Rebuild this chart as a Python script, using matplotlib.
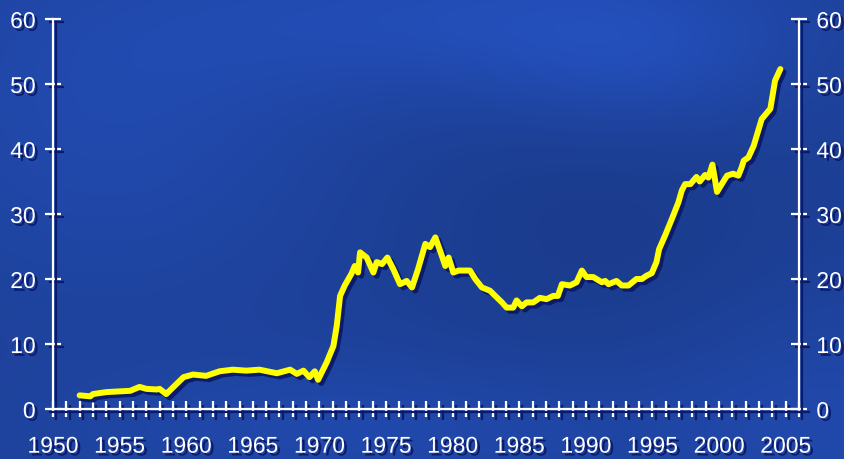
import numpy as np
import matplotlib
matplotlib.use("Agg")
import matplotlib.pyplot as plt
import matplotlib.patheffects as pe

# Series read as (year, value) pairs
years = [1952.0, 1952.8, 1953.0, 1954.0, 1955.8, 1956.5, 1957.0, 1957.8, 1958.0, 1958.5,
         1959.0, 1959.8, 1960.5, 1961.5, 1962.5, 1963.5, 1964.5, 1965.5, 1966.8, 1967.8,
         1968.3, 1968.8, 1969.25, 1969.65, 1969.9, 1970.55, 1971.05, 1971.3, 1971.55, 1971.9,
         1972.4, 1972.65, 1972.9, 1973.05, 1973.55, 1974.05, 1974.3, 1974.7, 1975.1, 1975.55,
         1976.05, 1976.55, 1976.95, 1977.4, 1977.95, 1978.3, 1978.7, 1979.05, 1979.45, 1979.7,
         1980.05, 1980.45, 1981.3, 1981.7, 1982.2, 1982.8, 1983.3, 1983.7, 1984.05, 1984.55,
         1984.8, 1985.2, 1985.55, 1986.05, 1986.55, 1987.05, 1987.55, 1987.9, 1988.2, 1988.8,
         1989.3, 1989.7, 1990.05, 1990.55, 1991.2, 1991.45, 1991.7, 1992.3, 1992.7, 1993.2,
         1993.8, 1994.2, 1994.55, 1994.95, 1995.3, 1995.5, 1995.95, 1996.45, 1996.95, 1997.2,
         1997.45, 1997.85, 1998.3, 1998.55, 1998.95, 1999.2, 1999.5, 1999.85, 2000.2, 2000.6,
         2001.05, 2001.45, 2001.7, 2001.85, 2002.2, 2002.6, 2003.2, 2003.85, 2004.2, 2004.6]
values = [2.1, 1.95, 2.3, 2.6, 2.8, 3.4, 3.1, 3.0, 3.1, 2.3,
          3.3, 4.9, 5.3, 5.1, 5.8, 6.05, 5.9, 6.05, 5.5, 6.05,
          5.4, 5.9, 4.9, 5.8, 4.5, 7.2, 9.7, 12.8, 17.4, 19.0,
          20.8, 22.0, 21.0, 24.1, 23.3, 21.0, 22.6, 22.3, 23.3, 21.5,
          19.2, 19.7, 18.7, 21.5, 25.4, 24.9, 26.4, 24.4, 22.0, 23.3,
          21.0, 21.3, 21.3, 20.0, 18.7, 18.2, 17.2, 16.4, 15.6, 15.6,
          16.7, 15.8, 16.4, 16.4, 17.1, 16.9, 17.4, 17.4, 19.2, 19.0,
          19.5, 21.3, 20.3, 20.3, 19.5, 19.7, 19.2, 19.7, 19.0, 19.0,
          20.0, 20.0, 20.5, 20.9, 22.6, 24.6, 26.7, 29.2, 31.8, 33.6,
          34.6, 34.6, 35.7, 35.0, 36.0, 35.6, 37.6, 33.4, 34.6, 35.9,
          36.2, 35.9, 37.2, 38.2, 38.7, 40.5, 44.6, 46.2, 50.5, 52.3]

x_major = list(range(1950, 2006, 5))
x_minor = list(range(1950, 2007))
y_ticks = list(range(0, 61, 10))

SHADOW = "#0c1a6a"
FONT = "Liberation Sans"
W, H = 845, 460
fig = plt.figure(figsize=(W / 100, H / 100), dpi=100)

# Mottled blue backdrop
bg = fig.add_axes([0, 0, 1, 1])
yy, xx = np.mgrid[0:H, 0:W]
base = np.array([0.115, 0.255, 0.60])
light = np.zeros((H, W))
for cx, cy, sx, sy, a in [(470, 20, 280, 80, 0.30), (110, 110, 220, 180, 0.22),
                          (380, 430, 320, 70, 0.20), (640, 60, 150, 80, 0.22),
                          (830, 420, 160, 120, 0.18)]:
    light += a * np.exp(-(((xx - cx) / sx) ** 2 + ((yy - cy) / sy) ** 2))
dark = 0.15 * np.exp(-(((xx - 600) / 220) ** 2 + ((yy - 220) / 160) ** 2))
img = base[None, None, :] * (1 + light[..., None] * 0.6 - dark[..., None] * 0.5)
img = np.clip(img, 0, 1)
bg.imshow(img, aspect="auto", extent=[0, 1, 0, 1], origin="upper")
bg.set_axis_off()

ax = fig.add_axes([53 / W, 50 / H, 746 / W, 390 / H])
ax.set_facecolor("none")
ax.set_xlim(1950, 2006)
ax.set_ylim(0, 60)

shadow_line = [pe.SimpleLineShadow(offset=(2.3, -2.3), shadow_color=SHADOW, alpha=1), pe.Normal()]
shadow_text = [pe.withSimplePatchShadow(offset=(2.0, -2.0), shadow_rgbFace=SHADOW, alpha=1)]

ax.plot(years, values, color="#ffff00", lw=4.3, solid_joinstyle="round",
        solid_capstyle="round", path_effects=shadow_line, zorder=5, clip_on=False)

for side in ("left", "right", "bottom"):
    ax.spines[side].set_color("white")
    ax.spines[side].set_linewidth(1.6)
    ax.spines[side].set_path_effects(shadow_line)
ax.spines["top"].set_visible(False)

ax.set_xticks(x_major)
ax.set_xticks(x_minor, minor=True)
ax.set_xticklabels([str(v) for v in x_major])
ax.set_yticks(y_ticks)
ax.set_yticklabels([str(v) for v in y_ticks])

ax.tick_params(axis="both", which="both", direction="inout", length=11, width=1.6,
               color="white", labelcolor="white", labelsize=16.5)
ax.tick_params(axis="y", left=True, right=True, labelleft=True, labelright=True, pad=7)
ax.tick_params(axis="x", which="both", pad=13)

for tk in ax.xaxis.get_major_ticks() + ax.xaxis.get_minor_ticks() + ax.yaxis.get_major_ticks():
    tk.tick1line.set_path_effects(shadow_line)
    tk.tick2line.set_path_effects(shadow_line)
    for lab in (tk.label1, tk.label2):
        lab.set_fontfamily(FONT)
        lab.set_path_effects(shadow_text)

fig.savefig("out.png", dpi=100)
